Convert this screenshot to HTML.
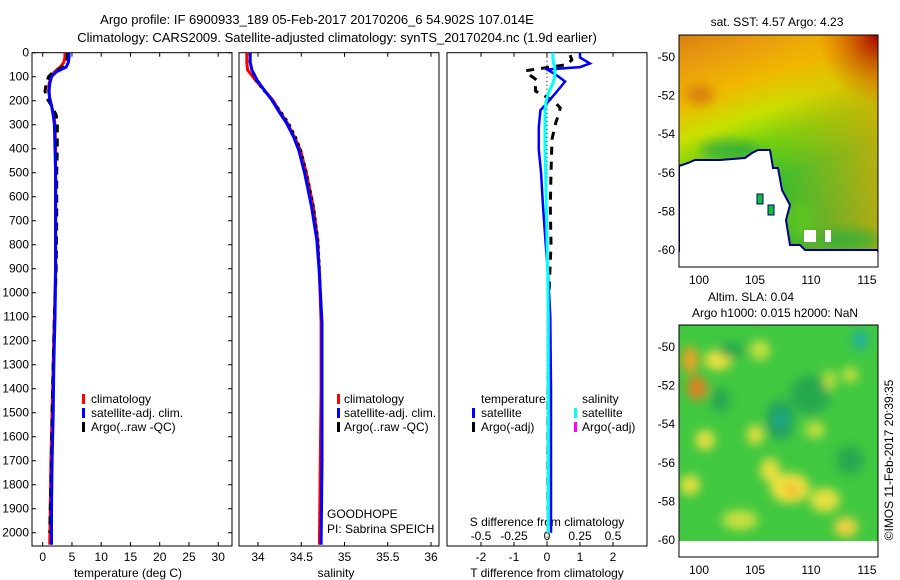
<!DOCTYPE html>
<html><head><meta charset="utf-8"><style>
html,body{margin:0;padding:0;background:#fff;}
svg{display:block;font-family:"Liberation Sans",sans-serif;}
text{font-size:12px;fill:#000;}
</style></head><body>
<svg id="fig" width="900" height="580" viewBox="0 0 900 580" xmlns="http://www.w3.org/2000/svg">
<defs>
<linearGradient id="sstGrad" x1="0" y1="0" x2="0.3" y2="1">
<stop offset="0" stop-color="#d88010"/>
<stop offset="0.12" stop-color="#e89a10"/>
<stop offset="0.28" stop-color="#f0b800"/>
<stop offset="0.42" stop-color="#c8e000"/>
<stop offset="0.55" stop-color="#70d010"/>
<stop offset="0.7" stop-color="#30c030"/>
<stop offset="1" stop-color="#20b040"/>
</linearGradient>
<linearGradient id="sstRight" x1="0" y1="0" x2="1" y2="0">
<stop offset="0.45" stop-color="#f0b000" stop-opacity="0"/>
<stop offset="1" stop-color="#f0a800" stop-opacity="0.7"/>
</linearGradient>
<radialGradient id="redCorner" cx="1" cy="0" r="0.3">
<stop offset="0" stop-color="#a80000"/>
<stop offset="1" stop-color="#c85000" stop-opacity="0"/>
</radialGradient>
<filter id="blur" x="-50%" y="-50%" width="200%" height="200%"><feGaussianBlur stdDeviation="5"/></filter>
<clipPath id="clipTop"><rect x="679" y="35" width="199" height="232"/></clipPath>
<clipPath id="clipBot"><rect x="679" y="325" width="199" height="232"/></clipPath>
<clipPath id="clipP1"><rect x="32" y="52" width="200" height="494"/></clipPath>
<clipPath id="clipP2"><rect x="239" y="52" width="200" height="494"/></clipPath>
<clipPath id="clipP3"><rect x="447" y="52" width="200" height="494"/></clipPath>
</defs>

<text x="317" y="24" text-anchor="middle" style="font-size:13px">Argo profile: IF 6900933_189 05-Feb-2017 20170206_6 54.902S 107.014E</text>
<text x="337" y="42" text-anchor="middle" style="font-size:13px">Climatology: CARS2009. Satellite-adjusted climatology: synTS_20170204.nc (1.9d earlier)</text>

<g id="axes"></g>
<g id="series"></g>

<g>
<rect x="82" y="394" width="3" height="10" fill="#f00"/><text x="91" y="403">climatology</text>
<rect x="82" y="408" width="3" height="10" fill="#00f"/><text x="91" y="417">satellite-adj. clim.</text>
<rect x="82" y="422" width="3" height="10" fill="#000"/><text x="91" y="431">Argo(..raw -QC)</text>
</g>
<g>
<rect x="337" y="394" width="3" height="10" fill="#f00"/><text x="344" y="403">climatology</text>
<rect x="337" y="408" width="3" height="10" fill="#00f"/><text x="344" y="417">satellite-adj. clim.</text>
<rect x="337" y="422" width="3" height="10" fill="#000"/><text x="344" y="431">Argo(..raw -QC)</text>
</g>
<text x="327" y="518">GOODHOPE</text>
<text x="327" y="533">PI: Sabrina SPEICH</text>
<g>
<text x="481" y="403">temperature</text>
<rect x="472" y="408" width="3" height="10" fill="#00f"/><text x="481" y="417">satellite</text>
<rect x="472" y="422" width="3" height="10" fill="#000"/><text x="481" y="431">Argo(-adj)</text>
<text x="582" y="403">salinity</text>
<rect x="574" y="408" width="3" height="10" fill="#0ff"/><text x="582" y="417">satellite</text>
<rect x="574" y="422" width="3" height="10" fill="#f0f"/><text x="582" y="431">Argo(-adj)</text>
</g>

<g clip-path="url(#clipTop)">
<rect x="679" y="35" width="199" height="232" fill="url(#sstGrad)"/>
<rect x="679" y="35" width="199" height="232" fill="url(#sstRight)"/>
<rect x="679" y="35" width="199" height="232" fill="url(#redCorner)"/>
<g filter="url(#blur)">
<ellipse cx="700" cy="95" rx="14" ry="10" fill="#d07010" opacity="0.7"/>
<ellipse cx="730" cy="150" rx="30" ry="10" fill="#10a050" opacity="0.6"/>
<ellipse cx="850" cy="240" rx="30" ry="10" fill="#10b040" opacity="0.6"/>
<ellipse cx="800" cy="220" rx="15" ry="20" fill="#60c820" opacity="0.7"/>
</g>
<polygon points="679,166 688,163 695,160 720,160 745,158 752,153 758,150 770,150 773,168 778,168 782,190 790,205 786,220 790,245 800,245 805,250 878,250 878,267 679,267" fill="#fff" stroke="#000080" stroke-width="2"/>
<rect x="679" y="252" width="199" height="15" fill="#fff"/>
<rect x="757" y="194" width="6" height="10" fill="#10c030" stroke="#000080"/>
<rect x="768" y="205" width="6" height="10" fill="#10c030" stroke="#000080"/>
<rect x="804" y="230" width="12" height="12" fill="#fff"/>
<rect x="825" y="230" width="6" height="12" fill="#fff"/>
</g>
<rect x="679" y="35" width="199" height="232" fill="none" stroke="#000"/>
<text x="777" y="26" text-anchor="middle">sat. SST: 4.57 Argo: 4.23</text>

<g clip-path="url(#clipBot)">
<rect x="679" y="325" width="199" height="232" fill="#40c840"/>
<g filter="url(#blur)">
<ellipse cx="690" cy="360" rx="8" ry="14" fill="#f0a020"/>
<ellipse cx="697" cy="388" rx="10" ry="12" fill="#e08020"/>
<ellipse cx="718" cy="360" rx="14" ry="10" fill="#f0e040"/>
<ellipse cx="705" cy="440" rx="10" ry="10" fill="#e8e040"/>
<ellipse cx="732" cy="350" rx="14" ry="8" fill="#28a850"/>
<ellipse cx="720" cy="400" rx="10" ry="12" fill="#28a850"/>
<ellipse cx="780" cy="420" rx="14" ry="20" fill="#20a060"/>
<ellipse cx="781" cy="420" rx="5" ry="6" fill="#20b0a0"/>
<ellipse cx="760" cy="350" rx="10" ry="10" fill="#c8e040"/>
<ellipse cx="755" cy="435" rx="8" ry="10" fill="#e8e040"/>
<ellipse cx="690" cy="485" rx="10" ry="10" fill="#e8e040"/>
<ellipse cx="770" cy="470" rx="10" ry="12" fill="#e8e040"/>
<ellipse cx="790" cy="488" rx="20" ry="15" fill="#f0e040"/>
<ellipse cx="792" cy="490" rx="6" ry="6" fill="#f0b030"/>
<ellipse cx="825" cy="500" rx="15" ry="12" fill="#e8e040"/>
<ellipse cx="846" cy="527" rx="12" ry="10" fill="#f0d040"/>
<ellipse cx="810" cy="395" rx="20" ry="20" fill="#28a850"/>
<ellipse cx="815" cy="430" rx="10" ry="8" fill="#c8e040"/>
<ellipse cx="860" cy="340" rx="8" ry="10" fill="#20b0a0"/>
<ellipse cx="830" cy="380" rx="6" ry="10" fill="#c8e040"/>
<ellipse cx="850" cy="375" rx="8" ry="8" fill="#c8e040"/>
<ellipse cx="740" cy="520" rx="18" ry="10" fill="#c8e040"/>
<ellipse cx="850" cy="460" rx="14" ry="14" fill="#28a850"/>
</g>
<rect x="679" y="541" width="199" height="16" fill="#fff"/>
</g>
<rect x="679" y="325" width="199" height="232" fill="none" stroke="#000"/>
<text x="751" y="301" text-anchor="middle">Altim. SLA: 0.04</text>
<text x="775" y="317" text-anchor="middle">Argo h1000: 0.015 h2000: NaN</text>
<text transform="translate(893,460) rotate(-90)" text-anchor="middle">©IMOS 11-Feb-2017 20:39:35</text>
</svg>

<script>
const depthTicks = [0,100,200,300,400,500,600,700,800,900,1000,1100,1200,1300,1400,1500,1600,1700,1800,1900,2000];
const tempTicks = [0,5,10,15,20,25,30];
const salTicks = [34,34.5,35,35.5,36];
const salTickLabels = ["34","34.5","35","35.5","36"];
const tdiffTicks = [-2,-1,0,1,2];
const sdiffTicks = [-0.5,-0.25,0,0.25,0.5];
const sdiffTickLabels = ["-0.5","-0.25","0","0.25","0.5"];
const lonTicks = [100,105,110,115];
const latTicks = [-50,-52,-54,-56,-58,-60];

const tDepths = [0,20,40,60,80,100,130,160,190,220,260,300,400,500,700,900,1100,1300,1500,1700,1900,2050];
const tempClim = [3.8,3.8,3.6,3.0,2.0,1.4,1.1,1.0,1.2,1.5,1.9,2.1,2.2,2.2,2.2,2.2,2.0,1.8,1.6,1.4,1.3,1.2];
const tempSat  = [4.5,4.5,4.4,4.0,2.3,1.5,1.2,1.1,1.2,1.5,1.8,2.0,2.1,2.2,2.2,2.2,2.1,1.9,1.8,1.6,1.5,1.5];
const aDepths = [0,20,40,60,80,100,130,160,190,220,260,300,400,500,700,900,1100,1300,1500,1700,1900,2000];
const tempArgo = [4.2,4.2,4.0,3.4,1.8,1.0,0.6,0.4,0.7,1.5,2.3,2.5,2.5,2.4,2.4,2.3,2.0,1.8,1.6,1.5,1.3,1.2];

const sDepths = [0,40,72,114,155,197,250,293,350,405,503,643,780,920,1125,1400,1700,2050];
const salClim = [33.87,33.87,33.88,33.97,34.07,34.17,34.26,34.34,34.42,34.49,34.56,34.64,34.69,34.71,34.73,34.73,34.72,34.71];
const salSat  = [33.91,33.91,33.93,33.99,34.07,34.16,34.25,34.33,34.41,34.47,34.54,34.62,34.68,34.71,34.74,34.74,34.74,34.73];
const salArgo = [33.90,33.90,33.92,33.97,34.05,34.17,34.28,34.36,34.44,34.50,34.57,34.65,34.70,34.72,34.74,34.74,34.73,34.72];

const dDepths = [0,20,45,60,70,90,120,170,210,240,310,405,503,640,780,920,1100,1400,1700,2000];
const tdiffSat = [1.0,1.0,1.3,1.0,0.0,0.25,0.55,0.25,0.0,-0.2,-0.25,-0.25,-0.18,-0.12,-0.05,0.03,0.1,0.12,0.12,0.12];
const sdiffSat = [0.045,0.045,0.05,0.06,0.06,0.06,0.05,0.01,-0.01,-0.015,-0.015,-0.015,-0.01,-0.005,0.0,0.005,0.01,0.01,0.01,0.01];
const aDiffDepths = [10,30,50,75,95,115,140,160,200,230,260,290,360,500,640,800,1000,1500,1900];
const tdiffArgo = [0.7,0.75,0.6,-0.65,-0.5,-0.3,-0.35,-0.35,0.2,0.4,0.35,0.27,0.15,0.12,0.1,0.12,0.06,0.03,0.03];

const Y0 = 52.7, YPX = 0.24, PB = 546;
const yD = d => Y0 + d*YPX;
const xT = t => 42.7 + t*5.85;
const xS = s => 258 + (s-34)*86.5;
const xTd = v => 547 + v*33;
const xSd = v => 547 + v*132;
const xLon = l => 699 + (l-100)*11.2;
const yLat = l => 57 + (-50-l)*19.3;

const NS = "http://www.w3.org/2000/svg";
const axes = document.getElementById('axes');
const series = document.getElementById('series');
function mk(tag, attrs, parent){ const e=document.createElementNS(NS,tag); for(const k in attrs) e.setAttribute(k,attrs[k]); parent.appendChild(e); return e; }
function txt(x,y,s,anchor,parent){ const e=mk('text',{x:x,y:y,'text-anchor':anchor},parent); e.textContent=s; return e; }

const panels = [[32,'temperature-panel'],[239,'salinity-panel'],[447,'difference-panel']];
panels.forEach(p=>{
  const r = mk('rect',{x:p[0],y:Y0,width:200,height:PB-Y0,fill:'none',stroke:'#000'},axes);
  
  
});
depthTicks.forEach(d=>{
  const y=yD(d);
  const t = mk('text',{x:29,y:y+4,'text-anchor':'end'},axes); t.textContent=String(d);
  
  
  mk('line',{x1:32,y1:y,x2:36,y2:y,stroke:'#000'},axes);
  mk('line',{x1:228,y1:y,x2:232,y2:y,stroke:'#000'},axes);
});
tempTicks.forEach(t=>{
  const x=xT(t);
  mk('line',{x1:x,y1:PB,x2:x,y2:PB-4,stroke:'#000'},axes);
  mk('line',{x1:x,y1:Y0,x2:x,y2:Y0+4,stroke:'#000'},axes);
  const e=txt(x,561,String(t),'middle',axes);
  
  
});
const xl1 = txt(128,577,'temperature (deg C)','middle',axes);


salTicks.forEach((s,i)=>{
  const x=xS(s);
  mk('line',{x1:x,y1:PB,x2:x,y2:PB-4,stroke:'#000'},axes);
  mk('line',{x1:x,y1:Y0,x2:x,y2:Y0+4,stroke:'#000'},axes);
  const e=txt(x,561,salTickLabels[i],'middle',axes);
  
  
});
const xl2 = txt(336,577,'salinity','middle',axes);


tdiffTicks.forEach(v=>{
  const x=xTd(v);
  mk('line',{x1:x,y1:PB,x2:x,y2:PB-4,stroke:'#000'},axes);
  mk('line',{x1:x,y1:Y0,x2:x,y2:Y0+4,stroke:'#000'},axes);
  const e=txt(x,561,String(v),'middle',axes);
  
  
});
sdiffTicks.forEach((v,i)=>{
  const e=txt(xSd(v),540,sdiffTickLabels[i],'middle',axes);
  
  
});
const xl3 = txt(547,526,'S difference from climatology','middle',axes);


const xl4 = txt(547,577,'T difference from climatology','middle',axes);


const zl = mk('line',{x1:xTd(0),y1:Y0,x2:xTd(0),y2:PB,stroke:'#000','stroke-dasharray':'1,3'},axes);



[[35,267],[325,557]].forEach((m,k)=>{
  const off = k===0?0:290;
  lonTicks.forEach(l=>{
    const x=xLon(l);
    mk('line',{x1:x,y1:m[0],x2:x,y2:m[0]+4,stroke:'#000'},axes);
    mk('line',{x1:x,y1:m[1],x2:x,y2:m[1]-4,stroke:'#000'},axes);
    const e=txt(x,m[1]+17,String(l),'middle',axes);
    
    
  });
  latTicks.forEach(l=>{
    const y=yLat(l)+off;
    mk('line',{x1:679,y1:y,x2:683,y2:y,stroke:'#000'},axes);
    mk('line',{x1:878,y1:y,x2:874,y2:y,stroke:'#000'},axes);
    const e=txt(675,y+4,String(l),'end',axes);
    
    
  });
});

function line(xs, ds, xf, color, w, dash, clip, name){
  const pts = xs.map((v,i)=>xf(v).toFixed(1)+','+yD(ds[i]).toFixed(1)).join(' ');
  const attrs = {points:pts,fill:'none',stroke:color,'stroke-width':w,'clip-path':'url(#'+clip+')'};
  if(dash) attrs['stroke-dasharray']=dash;
  const p = mk('polyline',attrs,series);
  
  
}
line(tempClim, tDepths, xT, '#f00', 3, null, 'clipP1', 'temperature-climatology-line');
line(tempArgo, aDepths, xT, '#000', 3, '8,6', 'clipP1', 'temperature-argo-line');
line(tempSat, tDepths, xT, '#00f', 3, null, 'clipP1', 'temperature-satellite-line');
line(salClim, sDepths, xS, '#f00', 3, null, 'clipP2', 'salinity-climatology-line');
line(salArgo, sDepths, xS, '#000', 1.5, '3,4', 'clipP2', 'salinity-argo-line');
line(salSat, sDepths, xS, '#00f', 3, null, 'clipP2', 'salinity-satellite-line');
line(tdiffArgo, aDiffDepths, xTd, '#000', 3, '8,7', 'clipP3', 't-difference-argo-line');
line(tdiffSat, dDepths, xTd, '#00f', 2.5, null, 'clipP3', 't-difference-satellite-line');
line(sdiffSat, dDepths, xSd, '#0ff', 3, null, 'clipP3', 's-difference-satellite-line');
</script>
</body></html>
